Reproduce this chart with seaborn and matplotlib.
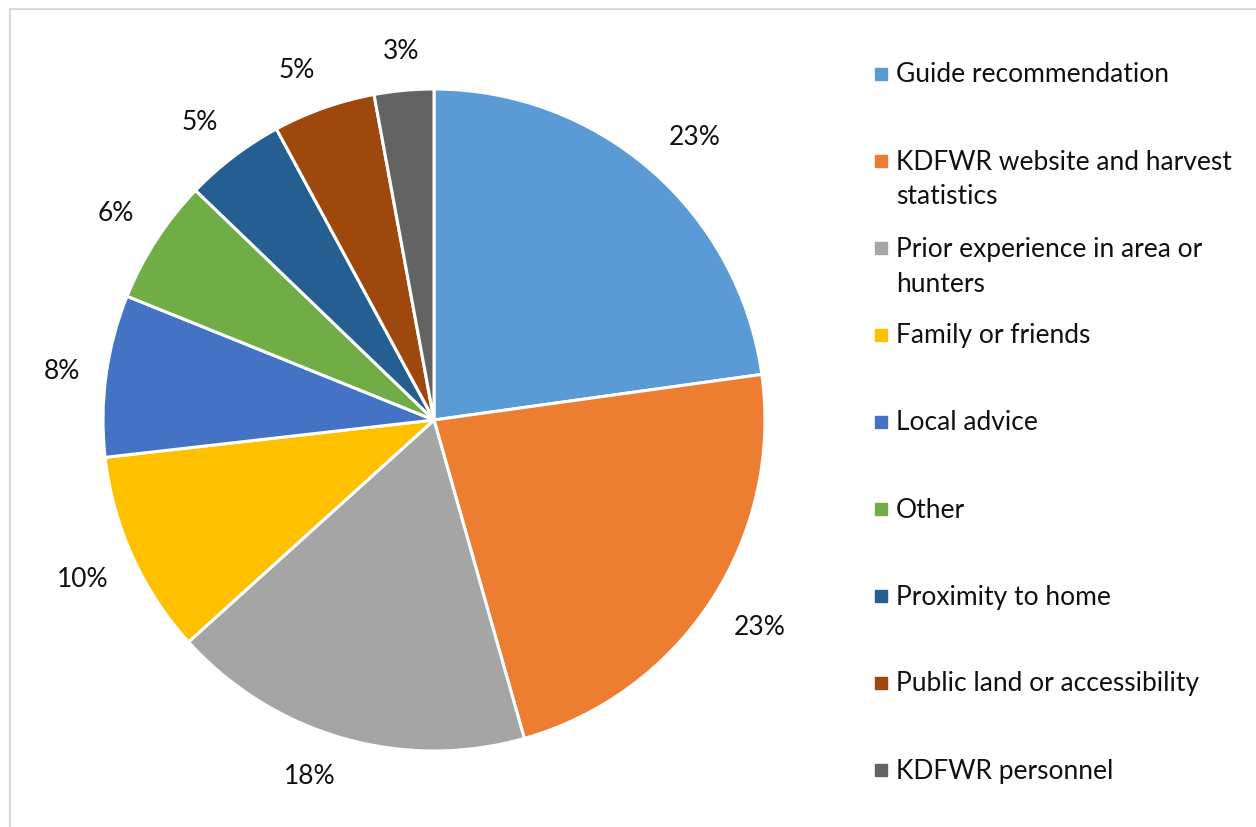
import numpy as np
import matplotlib.pyplot as plt
import seaborn as sns
from matplotlib.patches import Rectangle

# data (share of respondents, %)
categories = ['Guide recommendation', 'KDFWR website and harvest\nstatistics',
              'Prior experience in area or\nhunters', 'Family or friends', 'Local advice',
              'Other', 'Proximity to home', 'Public land or accessibility', 'KDFWR personnel']
shares = [22.8, 22.8, 17.7, 9.9, 7.9, 6.1, 4.9, 5.0, 2.9]
pct_labels = ['23%', '23%', '18%', '10%', '8%', '6%', '5%', '5%', '3%']
colors = ['#5B9BD5', '#ED7D31', '#A5A5A5', '#FFC000', '#4472C4',
          '#70AD47', '#255E91', '#9E480E', '#636363']

sns.set_theme(style='white')
plt.rcParams['font.family'] = ['Lato', 'DejaVu Sans']
FS = 19

W, H = 1256, 827
fig = plt.figure(figsize=(W / 100, H / 100), dpi=100)

# pie centre and radius in pixels
cx, cy, r = 434, 420, 331
ax = fig.add_axes([(cx - r) / W, (H - cy - r) / H, 2 * r / W, 2 * r / H])
wedges, _ = ax.pie(shares, colors=colors, startangle=90, counterclock=False,
                   wedgeprops=dict(edgecolor='white', linewidth=2.2))

# outside-end labels: nearest corner of the text box sits just off the rim
for w, lab in zip(wedges, pct_labels):
    th = np.deg2rad((w.theta1 + w.theta2) / 2)
    c, s = np.cos(th), np.sin(th)
    ha = 'center' if abs(c) < 0.2 else ('left' if c > 0 else 'right')
    va = 'center' if abs(s) < 0.2 else ('bottom' if s > 0 else 'top')
    ax.text(1.08 * c, 1.08 * s, lab, ha=ha, va=va, fontsize=FS, color='#111111')

ax.set_xlim(-1, 1)
ax.set_ylim(-1, 1)
ax.set_aspect('equal')
ax.axis('off')

# legend, drawn by hand to keep the even spacing of the original
line_h = 35
for i, (lab, col) in enumerate(zip(categories, colors)):
    y = 74 + 87.0 * i
    fig.patches.append(Rectangle((875 / W, (H - y - 6) / H), 12 / W, 12 / H,
                                 transform=fig.transFigure, color=col))
    # baseline alignment uses the last line, so push down for wrapped labels
    base = y + 8.5 + lab.count('\n') * line_h
    fig.text(896 / W, (H - base) / H, lab, fontsize=FS, color='#111111',
             ha='left', va='baseline', linespacing=1.5)

# chart border
fig.patches.append(Rectangle((10 / W, -0.05), 1.1, (H - 9) / H + 0.05,
                             transform=fig.transFigure, fill=False,
                             edgecolor='#D9D9D9', linewidth=1.5))

fig.savefig('out.png', dpi=100)
